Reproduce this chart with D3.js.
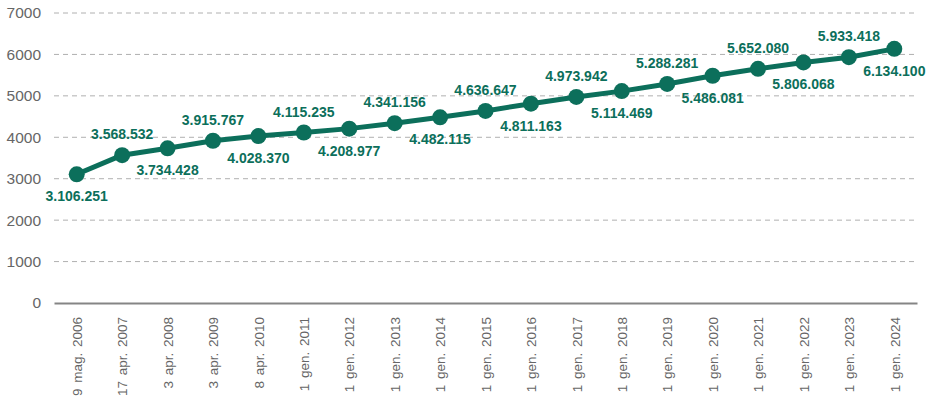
<!DOCTYPE html>
<html>
<head>
<meta charset="utf-8">
<script src="https://cdn.jsdelivr.net/npm/d3@7"></script>
<style>
  body { margin: 0; background: #fff; }
  svg { display: block; font-family: "Liberation Sans", Arial, sans-serif; }
</style>
</head>
<body>
<svg id="chart"></svg>
<script>
var dates = ["9 mag. 2006", "17 apr. 2007", "3 apr. 2008", "3 apr. 2009", "8 apr. 2010",
    "1 gen. 2011", "1 gen. 2012", "1 gen. 2013", "1 gen. 2014", "1 gen. 2015", "1 gen. 2016",
    "1 gen. 2017", "1 gen. 2018", "1 gen. 2019", "1 gen. 2020", "1 gen. 2021", "1 gen. 2022",
    "1 gen. 2023", "1 gen. 2024"];
var population = [3106251, 3568532, 3734428, 3915767, 4028370, 4115235, 4208977, 4341156,
    4482115, 4636647, 4811163, 4973942, 5114469, 5288281, 5486081, 5652080, 5806068,
    5933418, 6134100];
var yTicks = [0, 1000, 2000, 3000, 4000, 5000, 6000, 7000];

var svgWidth = 933, svgHeight = 406;
var margin = { top: 13, right: 16, bottom: 103, left: 54 };
var width = svgWidth - margin.left - margin.right;
var height = svgHeight - margin.top - margin.bottom;
var green = "#0c6f5b";

// italian style thousands: 3.106.251
var it = d3.formatLocale({ decimal: ",", thousands: ".", grouping: [3], currency: ["", "€"] });
var fmt = it.format(",d");

var svg = d3.select("#chart")
    .attr("width", svgWidth)
    .attr("height", svgHeight);

var g = svg.append("g")
    .attr("transform", "translate(" + margin.left + "," + margin.top + ")");

var x = d3.scalePoint()
    .domain(dates)
    .range([0, width])
    .padding(0.5);

var y = d3.scaleLinear()
    .domain([0, 7000])
    .range([height, 0]);

// grid lines
g.append("g")
    .selectAll("line")
    .data(yTicks.slice(1))
    .join("line")
    .attr("x1", 0)
    .attr("x2", width)
    .attr("y1", function(d) { return y(d); })
    .attr("y2", function(d) { return y(d); })
    .attr("stroke", "#b0b0b0")
    .attr("stroke-width", 1)
    .attr("stroke-dasharray", "5,4");

// y axis
var yAxis = g.append("g")
    .call(d3.axisLeft(y).tickValues(yTicks).tickFormat(d3.format("d")).tickSize(0).tickPadding(13));
yAxis.select(".domain").remove();
yAxis.selectAll("text")
    .attr("fill", "#666")
    .style("font-size", "15.5px");

// x axis
var xAxis = g.append("g")
    .attr("transform", "translate(0," + height + ")")
    .call(d3.axisBottom(x).tickSize(0));
xAxis.select(".domain")
    .attr("stroke", "#858585")
    .attr("stroke-width", 2);
xAxis.selectAll("text")
    .attr("fill", "#666")
    .style("font-size", "13.5px")
    .style("word-spacing", "2px")
    .attr("text-anchor", "end")
    .attr("transform", "rotate(-90)")
    .attr("x", -14)
    .attr("y", 0)
    .attr("dy", "0.35em");

var points = dates.map(function(d, i) { return { date: d, value: population[i] / 1000, raw: population[i], i: i }; });

var line = d3.line()
    .x(function(d) { return x(d.date); })
    .y(function(d) { return y(d.value); });

g.append("path")
    .datum(points)
    .attr("fill", "none")
    .attr("stroke", green)
    .attr("stroke-width", 5)
    .attr("stroke-linejoin", "round")
    .attr("d", line);

g.selectAll("circle.pt")
    .data(points)
    .join("circle")
    .attr("class", "pt")
    .attr("cx", function(d) { return x(d.date); })
    .attr("cy", function(d) { return y(d.value); })
    .attr("r", 8)
    .attr("fill", green);

// value labels, alternating below / above
g.selectAll("text.lbl")
    .data(points)
    .join("text")
    .attr("class", "lbl")
    .attr("x", function(d) { return x(d.date); })
    .attr("y", function(d) { return y(d.value) + (d.i % 2 === 0 ? 27 : -16); })
    .attr("text-anchor", "middle")
    .attr("fill", green)
    .style("font-size", "14px")
    .style("font-weight", "bold")
    .text(function(d) { return fmt(d.raw); });
</script>
</body>
</html>
